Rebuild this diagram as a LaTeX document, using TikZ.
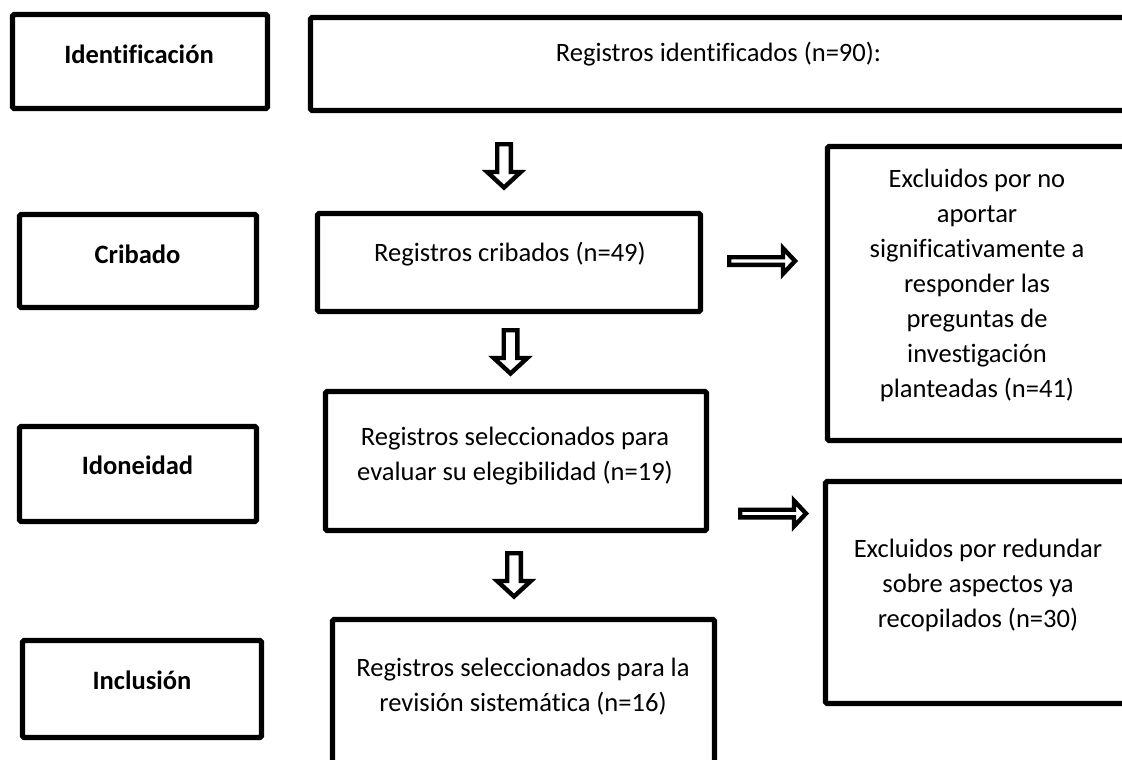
\documentclass[tikz,border=0pt]{standalone}
\usepackage{fontspec}
\setmainfont{Carlito}[Ligatures=NoCommon]
\usetikzlibrary{fit}
\begin{document}
\begin{tikzpicture}[x=0.75pt,y=-0.75pt,
  box/.style={draw=black, line width=3.9pt, rounded corners=1.2pt, inner sep=0pt, fill=white},
  txt/.style={font=\fontsize{19.9pt}{26.25pt}\selectfont, align=center, inner sep=0pt},
  hd/.style={font=\fontsize{19.9pt}{26.25pt}\selectfont\bfseries, align=center, inner sep=0pt},
  blk/.style={draw=black, line width=3.3pt, fill=white, line join=miter},
  downarr/.pic={\draw[blk] (-6.8,2.2) -- (6.8,2.2) -- (6.8,30) -- (16.8,30) -- (0,45.5) -- (-16.8,30) -- (-6.8,30) -- cycle;},
  rightarr/.pic={\draw[blk] (2.2,-3.8) -- (56,-3.8) -- (56,-12.8) -- (68,0) -- (56,12.8) -- (56,3.8) -- (2.2,3.8) -- cycle;}
]
\useasboundingbox (0,0) rectangle (1122,760);
\clip (0,0) rectangle (1122,760);

% left stage boxes
\node[box, fit={(12.5,14.5) (267.5,108.5)}] (idL) {};
\node[box, fit={(19.5,214.5) (256.5,307.5)}] (crL) {};
\node[box, fit={(19.5,426.5) (256.5,521.5)}] (doL) {};
\node[box, fit={(22.5,640.5) (261.5,737.5)}] (inL) {};
\node[hd] (idLt) at (139,54) {Identificación};
\node[hd] (crLt) at (137.5,254) {Cribado};
\node[hd] (doLt) at (137.5,465) {Idoneidad};
\node[hd] (inLt) at (142,680) {Inclusión};

% main flow boxes
\node[box, fit={(310.5,17.5) (1140,110.5)}] (idR) {};
\node[box, fit={(317.5,213.5) (700.5,311.5)}] (crR) {};
\node[box, fit={(325.5,391.5) (706.5,530.5)}] (doR) {};
\node[box, fit={(332.5,619.5) (714.5,780)}] (inR) {};
\node[txt] (idRt) at (718.5,54) {Registros identificados (n=90):};
\node[txt] (crRt) at (510,254) {Registros cribados (n=49)};
\node[txt] (doRt) at (515,456.5) {Registros seleccionados para\\evaluar su elegibilidad (n=19)};
\node[txt] (inRt) at (523,687) {Registros seleccionados para la\\revisión sistemática (n=16)};

% exclusion boxes
\node[box, fit={(827.5,146.5) (1140,440.5)}] (ex1) {};
\node[box, fit={(825.5,481.5) (1140,703.5)}] (ex2) {};
\node[txt] (ex1t) at (977,285) {Excluidos por no\\aportar\\significativamente a\\responder las\\preguntas de\\investigación\\planteadas (n=41)};
\node[txt] (ex2t) at (978,585.5) {Excluidos por redundar\\sobre aspectos ya\\recopilados (n=30)};

% block arrows
\coordinate (a1) at (504,142);
\coordinate (a2) at (510.5,328);
\coordinate (a3) at (514,551);
\coordinate (a4) at (727,261);
\coordinate (a5) at (738,513.5);
\pic at (a1) {downarr};
\pic at (a2) {downarr};
\pic at (a3) {downarr};
\pic at (a4) {rightarr};
\pic at (a5) {rightarr};
\end{tikzpicture}
\end{document}
